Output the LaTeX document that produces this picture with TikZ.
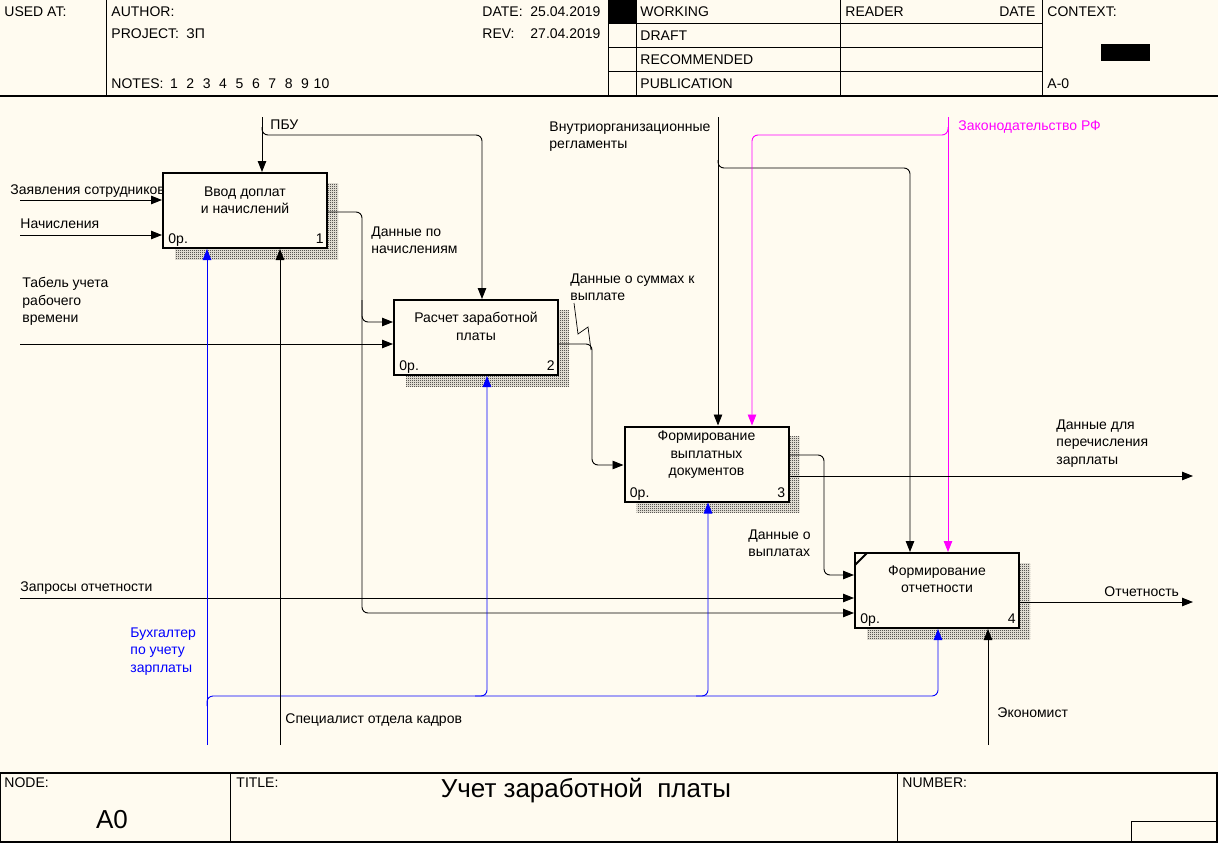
\documentclass[tikz,border=0pt]{standalone}
\usepackage{graphicx}
\usepackage{fontspec}
\setmainfont{Liberation Sans}
\usetikzlibrary{arrows.meta,calc,patterns}

\definecolor{paper}{RGB}{255,251,240}
\definecolor{mech}{RGB}{0,0,255}
\definecolor{law}{RGB}{255,0,255}
\newcommand\lbfont{\fontsize{14}{17.5}\selectfont}
% fine checkerboard for the box shadows
\pgfdeclarepatternformonly{checker}{\pgfpointorigin}{\pgfpoint{2pt}{2pt}}{\pgfpoint{2pt}{2pt}}{
  \pgfpathrectangle{\pgfpointorigin}{\pgfpoint{1pt}{1pt}}
  \pgfpathrectangle{\pgfpoint{1pt}{1pt}}{\pgfpoint{1pt}{1pt}}
  \pgfusepath{fill}}

\begin{document}
\begin{tikzpicture}[x=1pt,y=-1pt,line width=0.9pt,>={Triangle[length=11pt,width=8.5pt]},
  lbl/.style={anchor=north west,inner sep=0pt,align=left,font=\lbfont,
    execute at begin node={\rule{0pt}{15.25pt}}},
  func/.style={draw,line width=2pt,fill=paper,minimum width=164pt,
    minimum height=75pt,inner sep=0pt},
  shade/.style={pattern=checker,pattern color=black},
  arr/.style={->,rounded corners=6pt},
  frm/.style={line width=1.6pt},
  cell/.style={line width=1pt}]
\useasboundingbox (0,0) rectangle (1218,843);
\fill[paper] (0,0) rectangle (1218,843);

% header
\draw[frm] (0,96) -- (1218,96);
\draw[cell] (106,0) -- (106,96) (608,0) -- (608,96) (636,0) -- (636,96)
  (840,0) -- (840,96) (1042,0) -- (1042,96);
\foreach \y in {23.5,47.5,71.5}
  \draw[cell] (608,\y) -- (1042,\y);
\fill (608,0) rectangle (636,23.5);
\fill (1101,44) rectangle (1150,61);
\node[lbl] at (4,1) {USED AT:};
\node[lbl] at (111,1) {AUTHOR:};
\node[lbl] at (111,23) {PROJECT:};
\node[lbl] at (186,23) {ЗП};
\node[lbl] at (111,73) {NOTES:};
\foreach \n in {1,...,10}
  \node[lbl,anchor=north] at ({157.5+16.4*\n},73) {\n};
\node[lbl] at (482,1) {DATE:};
\node[lbl] at (530,1) {25.04.2019};
\node[lbl] at (482,23) {REV:};
\node[lbl] at (530,23) {27.04.2019};
\foreach \t [count=\i] in {WORKING,DRAFT,RECOMMENDED,PUBLICATION}
  \node[lbl] at (640,{1+24*(\i-1)}) {\t};
\node[lbl] at (845,1) {READER};
\node[lbl,anchor=north east] at (1036,1) {DATE};
\node[lbl] at (1047,1) {CONTEXT:};
\node[lbl] at (1047,73) {A-0};

% footer
\draw[frm] (0,773) rectangle (1217,842);
\draw[cell] (230,773) -- (230,842) (897,773) -- (897,842);
\draw[cell] (1218,821) -| (1131,842);
\node[lbl] at (4,772) {NODE:};
\node[lbl] at (236,772) {TITLE:};
\node[lbl] at (902,772) {NUMBER:};
\node[inner sep=0pt,font=\fontsize{26}{30}\selectfont] at (112,820) {A0};
\node[inner sep=0pt,font=\fontsize{26}{30}\selectfont] at (586,791)
  {Учет заработной \ платы};

% activities
\foreach \n/\x/\y in {a1/245/210.5,a2/476/337.5,a3/706.5/464,a4/937/590.5}{
  \fill[shade] (\x-70,\y-27.5) rectangle (\x+93,\y+48.5);
  \node[func] (\n) at (\x,\y) {};
}
\node[lbl,anchor=north,align=center] at ($(a1.north)+(0,14)$) {Ввод доплат\\и начислений};
\node[lbl,anchor=north,align=center] at ($(a2.north)+(0,13)$) {Расчет заработной\\платы};
\node[lbl,anchor=north,align=center] at ($(a3.north)+(0,5)$) {Формирование\\выплатных\\документов};
\node[lbl,anchor=north,align=center] at ($(a4.north)+(0,13)$) {Формирование\\отчетности};
\foreach \n/\k in {a1/1,a2/2,a3/3,a4/4}{
  \node[lbl] at ($(\n.south west)+(6,-21)$) {0р.};
  \node[lbl,anchor=north east] at ($(\n.south east)+(-4,-21)$) {\k};
}
\draw[line width=2pt] (855,565) -- (867,553);

% controls
\coordinate (pbu) at (262,117);
\draw[arr] (pbu) -- (a1.north -| pbu);
\draw[arr] (262,127) |- (482,135) -- (a2.north -| 482,0);
\node[lbl] at (270,114) {ПБУ};
\coordinate (reg) at (718,117);
\draw[arr] (reg) -- (a3.north -| reg);
\draw[arr] (718,160) |- (910,168) -- (a4.north -| 910,0);
\node[lbl] at (549,121) {Внутриорганизационные\\регламенты};
\coordinate (zak) at (948,117);
\draw[arr,law] (zak) -- (a4.north -| zak);
\draw[arr,law] (948,127) |- (752,135) -- (a3.north -| 752,0);
\node[lbl,text=law] at (958,115) {Законодательство РФ};

% inputs
\coordinate (zay) at (20,200);
\draw[arr] (zay) -- (a1.west |- zay);
\node[lbl] at (10,179) {Заявления сотрудников};
\coordinate (nach) at (20,235);
\draw[arr] (nach) -- (a1.west |- nach);
\node[lbl] at (20,213) {Начисления};
\coordinate (tab) at (20,344);
\draw[arr] (tab) -- (a2.west |- tab);
\node[lbl] at (22,277) {Табель учета\\рабочего\\времени};
\coordinate (zap) at (20,598);
\draw[arr] (zap) -- (a4.west |- zap);
\node[lbl] at (20,576) {Запросы отчетности};

% outputs
\draw[arr] (a1.east |- 0,212) -| (362,322) -- (a2.west |- 0,322);
\draw[arr] (362,300) |- (a4.west |- 0,613);
\node[lbl] at (371,226) {Данные по\\начислениям};
\draw[arr] (a2.east |- 0,344) -| (592,465) -- (a3.west |- 0,465);
\node[lbl] at (570,273) {Данные о суммах к\\выплате};
\draw[line width=0.7pt] (574,303) -- (578,334) -- (588,327) -- (591,350);
\coordinate (perech) at (1193,476);
\draw[arr] (a3.east |- perech) -- (perech);
\node[lbl] at (1056,419) {Данные для\\перечисления\\зарплаты};
\draw[arr] (a3.east |- 0,455) -| (824,575) -- (a4.west |- 0,575);
\node[lbl] at (748,529) {Данные о\\выплатах};
\coordinate (otch) at (1193,602);
\draw[arr] (a4.east |- otch) -- (otch);
\node[lbl] at (1104,581) {Отчетность};

% mechanisms
\coordinate (buh) at (207,745);
\draw[arr,mech] (buh) -- (a1.south -| buh);
\draw[arr,mech] (207,706) |- (938,696) -- (a4.south -| 938,0);
\draw[arr,mech] (475,696) -| (a2.south -| 487,0);
\draw[arr,mech] (696,696) -| (a3.south -| 708,0);
\node[lbl,text=mech] at (130,627) {Бухгалтер\\по учету\\зарплаты};
\coordinate (spec) at (280,745);
\draw[arr] (spec) -- (a1.south -| spec);
\node[lbl] at (285,708) {Специалист отдела кадров};
\coordinate (ekon) at (988,745);
\draw[arr] (ekon) -- (a4.south -| ekon);
\node[lbl] at (997,702) {Экономист};
\end{tikzpicture}
\end{document}
